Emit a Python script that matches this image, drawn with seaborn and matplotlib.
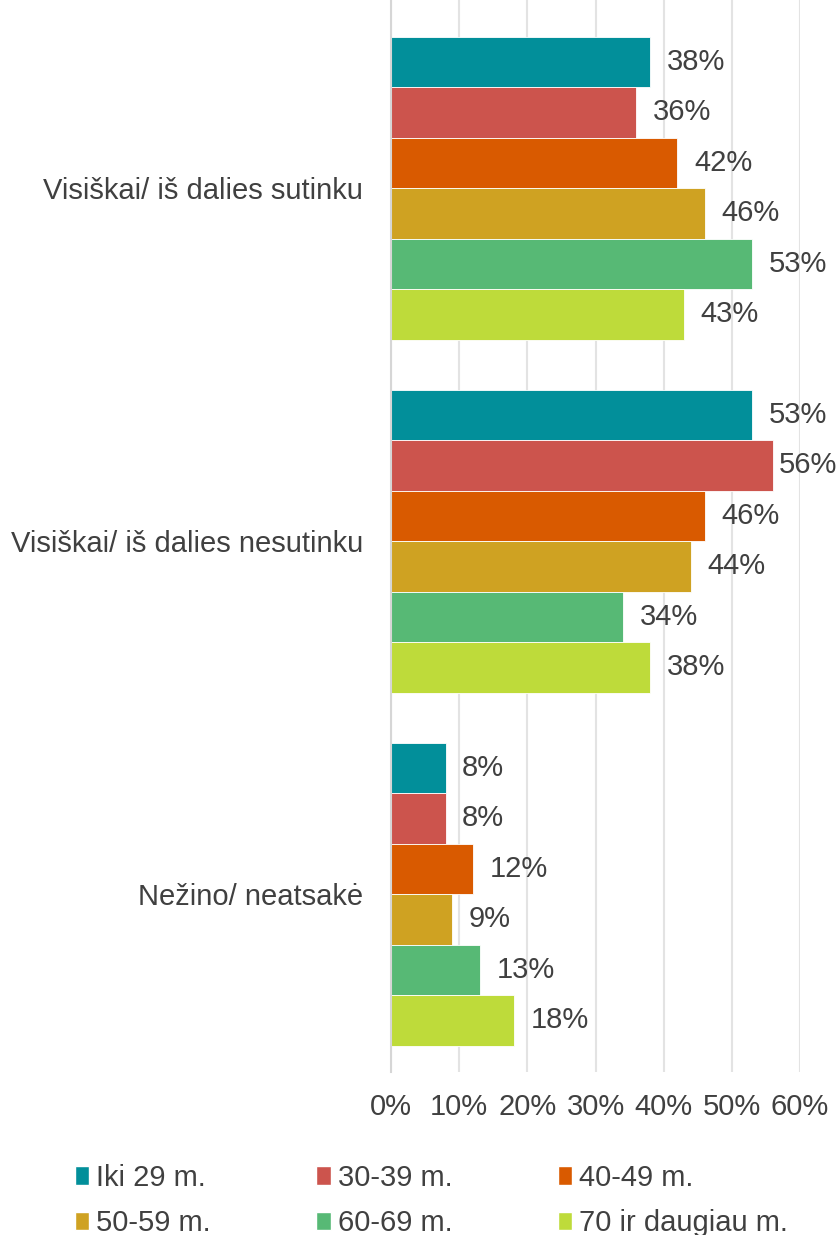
import matplotlib
matplotlib.use("Agg")
import matplotlib.pyplot as plt
import seaborn as sns
import pandas as pd
from matplotlib.patches import Patch

sns.set_theme(style="white")
plt.rcParams["font.family"] = ["Liberation Sans", "DejaVu Sans"]

categories = ["Visiškai/ iš dalies sutinku", "Visiškai/ iš dalies nesutinku", "Nežino/ neatsakė"]
groups = ["Iki 29 m.", "30-39 m.", "40-49 m.", "50-59 m.", "60-69 m.", "70 ir daugiau m."]
colors = ["#028F9A", "#CC544D", "#D95A00", "#CFA222", "#57B975", "#BEDB3A"]
values = {
    "Iki 29 m.": [38, 53, 8],
    "30-39 m.": [36, 56, 8],
    "40-49 m.": [42, 46, 12],
    "50-59 m.": [46, 44, 9],
    "60-69 m.": [53, 34, 13],
    "70 ir daugiau m.": [43, 38, 18],
}
xticks = [0, 10, 20, 30, 40, 50, 60]

rows = []
for g in groups:
    for c, v in zip(categories, values[g]):
        rows.append({"cat": c, "group": g, "val": v / 100})
df = pd.DataFrame(rows)

text_col = "#404040"
fs = 21
fig = plt.figure(figsize=(8.38, 12.35), dpi=100)
ax = fig.add_axes([0.4666, 0.132, 0.4881, 0.868])

sns.barplot(data=df, y="cat", x="val", hue="group", order=categories, hue_order=groups,
            palette=colors, saturation=1, orient="h", width=0.858, edgecolor="white",
            linewidth=0.6, legend=False, ax=ax)

for cont in ax.containers:
    texts = ax.bar_label(cont, labels=[f"{v * 100:.0f}%" for v in cont.datavalues],
                         padding=12, fontsize=fs, color=text_col)
    # labels near the right edge are pulled in closer, as in the original
    for t, v in zip(texts, cont.datavalues):
        if v > 0.55:
            t.xyann = (4, 0)

ax.set_xlim(0, 0.6)
ax.set_ylim(2.504, -0.533)
ax.set_xticks([t / 100 for t in xticks])
ax.set_xticklabels([f"{t}%" for t in xticks], fontsize=fs, color=text_col)
ax.tick_params(axis="x", length=0, pad=15)
ax.tick_params(axis="y", length=0, pad=20, labelsize=fs, labelcolor=text_col)
ax.set_xlabel("")
ax.set_ylabel("")
ax.xaxis.grid(True, color="#E3E3E3", linewidth=1.5)
ax.set_axisbelow(True)
for s in ["top", "right", "bottom"]:
    ax.spines[s].set_visible(False)
ax.spines["left"].set_color("#D6D6D6")
ax.spines["left"].set_linewidth(1.5)

handles = [Patch(facecolor=c, label=g) for g, c in zip(groups, colors)]
order = [0, 3, 1, 4, 2, 5]
fig.legend([handles[i] for i in order], [groups[i] for i in order], ncol=3,
           loc="center left", bbox_to_anchor=(0.089, 0.028), frameon=False,
           fontsize=fs, labelcolor=text_col, handlelength=0.5, handleheight=0.6,
           handletextpad=0.25, columnspacing=3.6, labelspacing=0.6,
           borderpad=0, borderaxespad=0)

fig.savefig("out.png", dpi=100)
